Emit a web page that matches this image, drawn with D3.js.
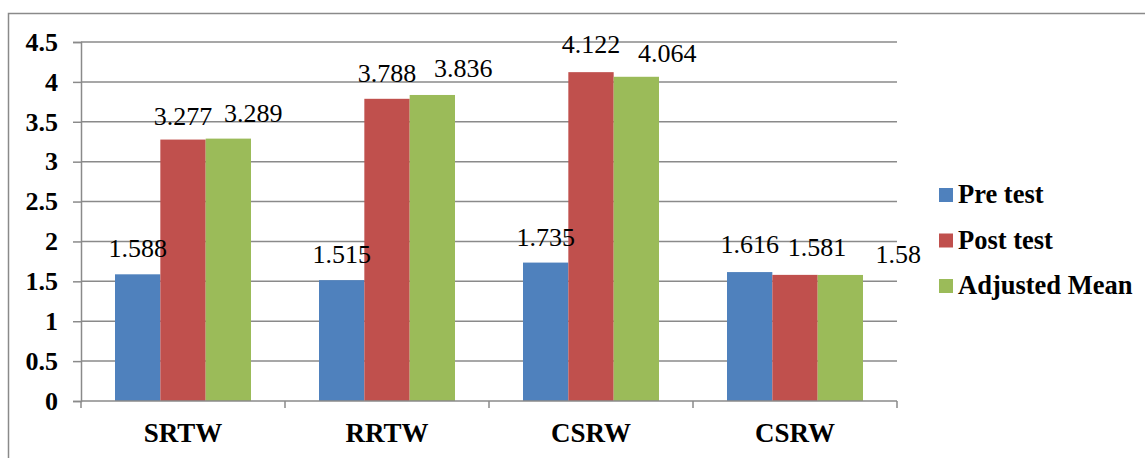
<!DOCTYPE html>
<html>
<head>
<meta charset="utf-8">
<script src="https://cdn.jsdelivr.net/npm/d3@7"></script>
<style>
  body { margin: 0; background: #fff; }
  svg text { font-family: "Times New Roman", "Liberation Serif", Tinos, "DejaVu Serif", serif !important; fill: #000; }
</style>
</head>
<body>
<div id="chart"></div>
<script>
// chart data
var categories = ["SRTW", "RRTW", "CSRW", "CSRW "];
var seriesNames = ["Pre test", "Post test", "Adjusted Mean"];
var preTest = [1.588, 1.515, 1.735, 1.616];
var postTest = [3.277, 3.788, 4.122, 1.581];
var adjustedMean = [3.289, 3.836, 4.064, 1.58];
var yTicks = [0, 0.5, 1, 1.5, 2, 2.5, 3, 3.5, 4, 4.5];
var yTickLabels = ["0", "0.5", "1", "1.5", "2", "2.5", "3", "3.5", "4", "4.5"];

var colors = ["#4F81BD", "#C0504D", "#9BBB59"];
var gridColor = "#8a8a8a";
var serif = "'Times New Roman', 'Liberation Serif', Tinos, 'DejaVu Serif', serif";

var svgWidth = 1145;
var svgHeight = 458;

var margin = { top: 42, right: 248, bottom: 57, left: 81 };
var width = svgWidth - margin.left - margin.right;
var height = svgHeight - margin.top - margin.bottom;

var svg = d3.select("#chart")
  .append("svg")
  .attr("width", svgWidth)
  .attr("height", svgHeight)
  .attr("font-family", serif);

// outer frame (only top and left edges show in the picture)
svg.append("path")
  .attr("d", "M8.5,458 V13.5 H1145")
  .attr("fill", "none")
  .attr("stroke", gridColor)
  .attr("stroke-width", 1.5);

var chartGroup = svg.append("g")
  .attr("transform", `translate(${margin.left}, ${margin.top})`);

var values = [preTest, postTest, adjustedMean];
var rows = categories.map(function(c, i) {
  return { cat: c, vals: values.map(function(s) { return s[i]; }) };
});

var x0 = d3.scaleBand()
  .domain(categories)
  .range([0, width])
  .padding(0);

var x1 = d3.scaleBand()
  .domain(d3.range(seriesNames.length))
  .range([x0.bandwidth() / 6, x0.bandwidth() * 5 / 6]);

var y = d3.scaleLinear()
  .domain([0, 4.5])
  .range([height, 0]);

// gridlines
chartGroup.append("g")
  .selectAll("line")
  .data(yTicks.slice(1))
  .enter()
  .append("line")
  .attr("x1", 0)
  .attr("x2", width)
  .attr("y1", d => y(d))
  .attr("y2", d => y(d))
  .attr("stroke", gridColor)
  .attr("stroke-width", 1.5);

// y axis
var leftAxis = d3.axisLeft(y)
  .tickValues(yTicks)
  .tickFormat((d, i) => yTickLabels[i])
  .tickSize(8)
  .tickPadding(15);

var yAxis = chartGroup.append("g").call(leftAxis).attr("font-family", serif);
yAxis.select(".domain").attr("stroke", gridColor).attr("stroke-width", 1.5);
yAxis.selectAll(".tick line").attr("stroke", gridColor).attr("stroke-width", 1.5);
yAxis.selectAll(".tick text")
  .attr("font-size", "26px")
  .attr("font-weight", "bold")
  .attr("font-family", serif);

// bars
var groups = chartGroup.selectAll(".group")
  .data(rows)
  .enter()
  .append("g")
  .attr("class", "group")
  .attr("transform", d => `translate(${x0(d.cat)}, 0)`);

groups.selectAll("rect")
  .data(d => d.vals)
  .enter()
  .append("rect")
  .attr("x", (d, i) => x1(i))
  .attr("width", x1.bandwidth())
  .attr("y", d => y(d))
  .attr("height", d => y(0) - y(d))
  .attr("fill", (d, i) => colors[i]);

// value labels; Excel shoved some to the right so they don't collide
var nudgeX = [[0, 0, 25], [0, 0, 31], [0, 0, 31], [0, 22, 58]];
var nudgeY = [[0, 2, 0], [0, 0, -1], [0, -2, 2], [-2, -2, 5]];

groups.each(function(row, gi) {
  d3.select(this).selectAll(".val")
    .data(row.vals)
    .enter()
    .append("text")
    .attr("class", "val")
    .attr("x", (d, i) => x1(i) + x1.bandwidth() / 2 + nudgeX[gi][i])
    .attr("y", (d, i) => y(d) - 17 + nudgeY[gi][i])
    .attr("text-anchor", "middle")
    .attr("font-size", "26px")
    .attr("font-family", serif)
    .text(d => d);
});

// x axis: line with ticks on the category boundaries
var xAxis = chartGroup.append("g")
  .attr("transform", `translate(0, ${height})`);

xAxis.append("line")
  .attr("x1", 0)
  .attr("x2", width)
  .attr("stroke", gridColor)
  .attr("stroke-width", 1.5);

xAxis.selectAll(".bound")
  .data(categories.map(c => x0(c)).concat([width]))
  .enter()
  .append("line")
  .attr("class", "bound")
  .attr("x1", d => d)
  .attr("x2", d => d)
  .attr("y1", 0)
  .attr("y2", 7)
  .attr("stroke", gridColor)
  .attr("stroke-width", 1.5);

xAxis.selectAll(".cat")
  .data(categories)
  .enter()
  .append("text")
  .attr("class", "cat")
  .attr("x", d => x0(d) + x0.bandwidth() / 2)
  .attr("y", 41)
  .attr("text-anchor", "middle")
  .attr("font-size", "27px")
  .attr("font-weight", "bold")
  .attr("font-family", serif)
  .text(d => d.trim());

// legend
var legend = svg.append("g")
  .attr("transform", "translate(939, 188)");

var legendItems = legend.selectAll(".item")
  .data(seriesNames)
  .enter()
  .append("g")
  .attr("class", "item")
  .attr("transform", (d, i) => `translate(0, ${i * 45.5})`);

legendItems.append("rect")
  .attr("width", 14)
  .attr("height", 14)
  .attr("fill", (d, i) => colors[i]);

legendItems.append("text")
  .attr("x", 19)
  .attr("y", 15)
  .attr("font-size", "26.5px")
  .attr("font-weight", "bold")
  .attr("font-family", serif)
  .text(d => d);
</script>
</body>
</html>
